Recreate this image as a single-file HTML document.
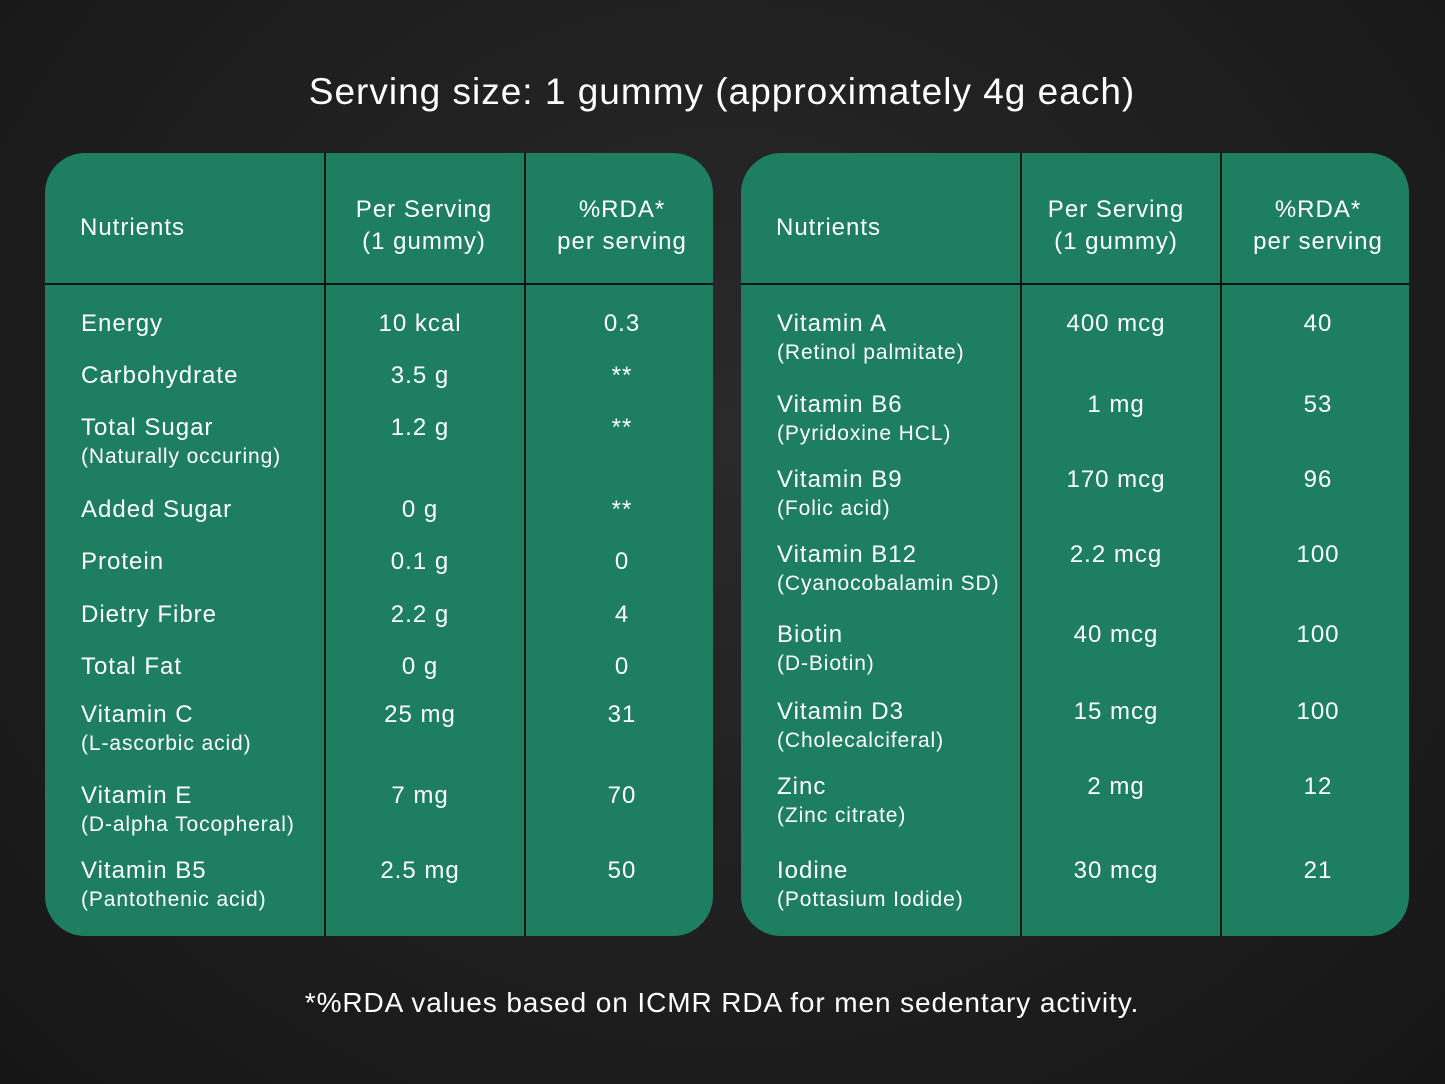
<!DOCTYPE html><html><head><style>
body{margin:0;width:1445px;height:1084px;background:#1f1f1f;background:radial-gradient(ellipse at 50% 40%,#2a2a2a,#161616);font-family:"Liberation Sans",sans-serif;color:#fff;position:relative;overflow:hidden}
.t{position:absolute;white-space:nowrap}
.card{position:absolute;top:153px;width:668px;height:783px;background:#1d7f5f;border-radius:40px;overflow:hidden}
.vl{position:absolute;width:2px;background:#111}
.hl{position:absolute;top:283px;height:2px;background:#111}
.m{font-size:24px;letter-spacing:1px}.s{font-size:21px;letter-spacing:0.9px}
.c{text-align:center;transform:translateX(-50%)}
</style></head><body>
<div class="t c" style="left:722px;top:71px;font-size:37px;letter-spacing:1px">Serving size: 1 gummy (approximately 4g each)</div>
<div class="card" style="left:45px"></div><div class="card" style="left:741px"></div>
<div class="vl" style="left:324px;top:153px;height:783px"></div>
<div class="vl" style="left:524px;top:153px;height:783px"></div>
<div class="vl" style="left:1020px;top:153px;height:783px"></div>
<div class="vl" style="left:1220px;top:153px;height:783px"></div>
<div class="hl" style="left:45px;width:668px"></div>
<div class="hl" style="left:741px;width:668px"></div>
<div id="c"></div>
<div class="t c" style="left:722px;top:987px;font-size:28px;letter-spacing:0.9px">*%RDA values based on ICMR RDA for men sedentary activity.</div>
<script>
let h='';
function T(x,y,s,cls,c){h+=`<div class="t ${cls}${c?' c':''}" style="left:${x}px;top:${y}px">${s}</div>`}
[[0,80,424,622],[696,776,1116,1318]].forEach(([o,a,b,d])=>{
T(a,214,'Nutrients','m');T(b,196,'Per Serving','m',1);T(b,228,'(1 gummy)','m',1);T(d,196,'%RDA*','m',1);T(d,228,'per serving','m',1);});
const L=[[310,'Energy','','10 kcal','0.3'],[362,'Carbohydrate','','3.5 g','**'],[414,'Total Sugar','(Naturally occuring)','1.2 g','**'],[496,'Added Sugar','','0 g','**'],[548,'Protein','','0.1 g','0'],[601,'Dietry Fibre','','2.2 g','4'],[653,'Total Fat','','0 g','0'],[701,'Vitamin C','(L-ascorbic acid)','25 mg','31'],[782,'Vitamin E','(D-alpha Tocopheral)','7 mg','70'],[857,'Vitamin B5','(Pantothenic acid)','2.5 mg','50']];
L.forEach(r=>{T(81,r[0],r[1],'m');if(r[2])T(81,r[0]+31,r[2],'s');T(420,r[0],r[3],'m',1);T(622,r[0],r[4],'m',1)});
const R=[[310,'Vitamin A','(Retinol palmitate)','400 mcg','40'],[391,'Vitamin B6','(Pyridoxine HCL)','1 mg','53'],[466,'Vitamin B9','(Folic acid)','170 mcg','96'],[541,'Vitamin B12','(Cyanocobalamin SD)','2.2 mcg','100'],[621,'Biotin','(D-Biotin)','40 mcg','100'],[698,'Vitamin D3','(Cholecalciferal)','15 mcg','100'],[773,'Zinc','(Zinc citrate)','2 mg','12'],[857,'Iodine','(Pottasium Iodide)','30 mcg','21']];
R.forEach(r=>{T(777,r[0],r[1],'m');T(777,r[0]+31,r[2],'s');T(1116,r[0],r[3],'m',1);T(1318,r[0],r[4],'m',1)});
document.getElementById('c').innerHTML=h;
</script>
</body></html>
